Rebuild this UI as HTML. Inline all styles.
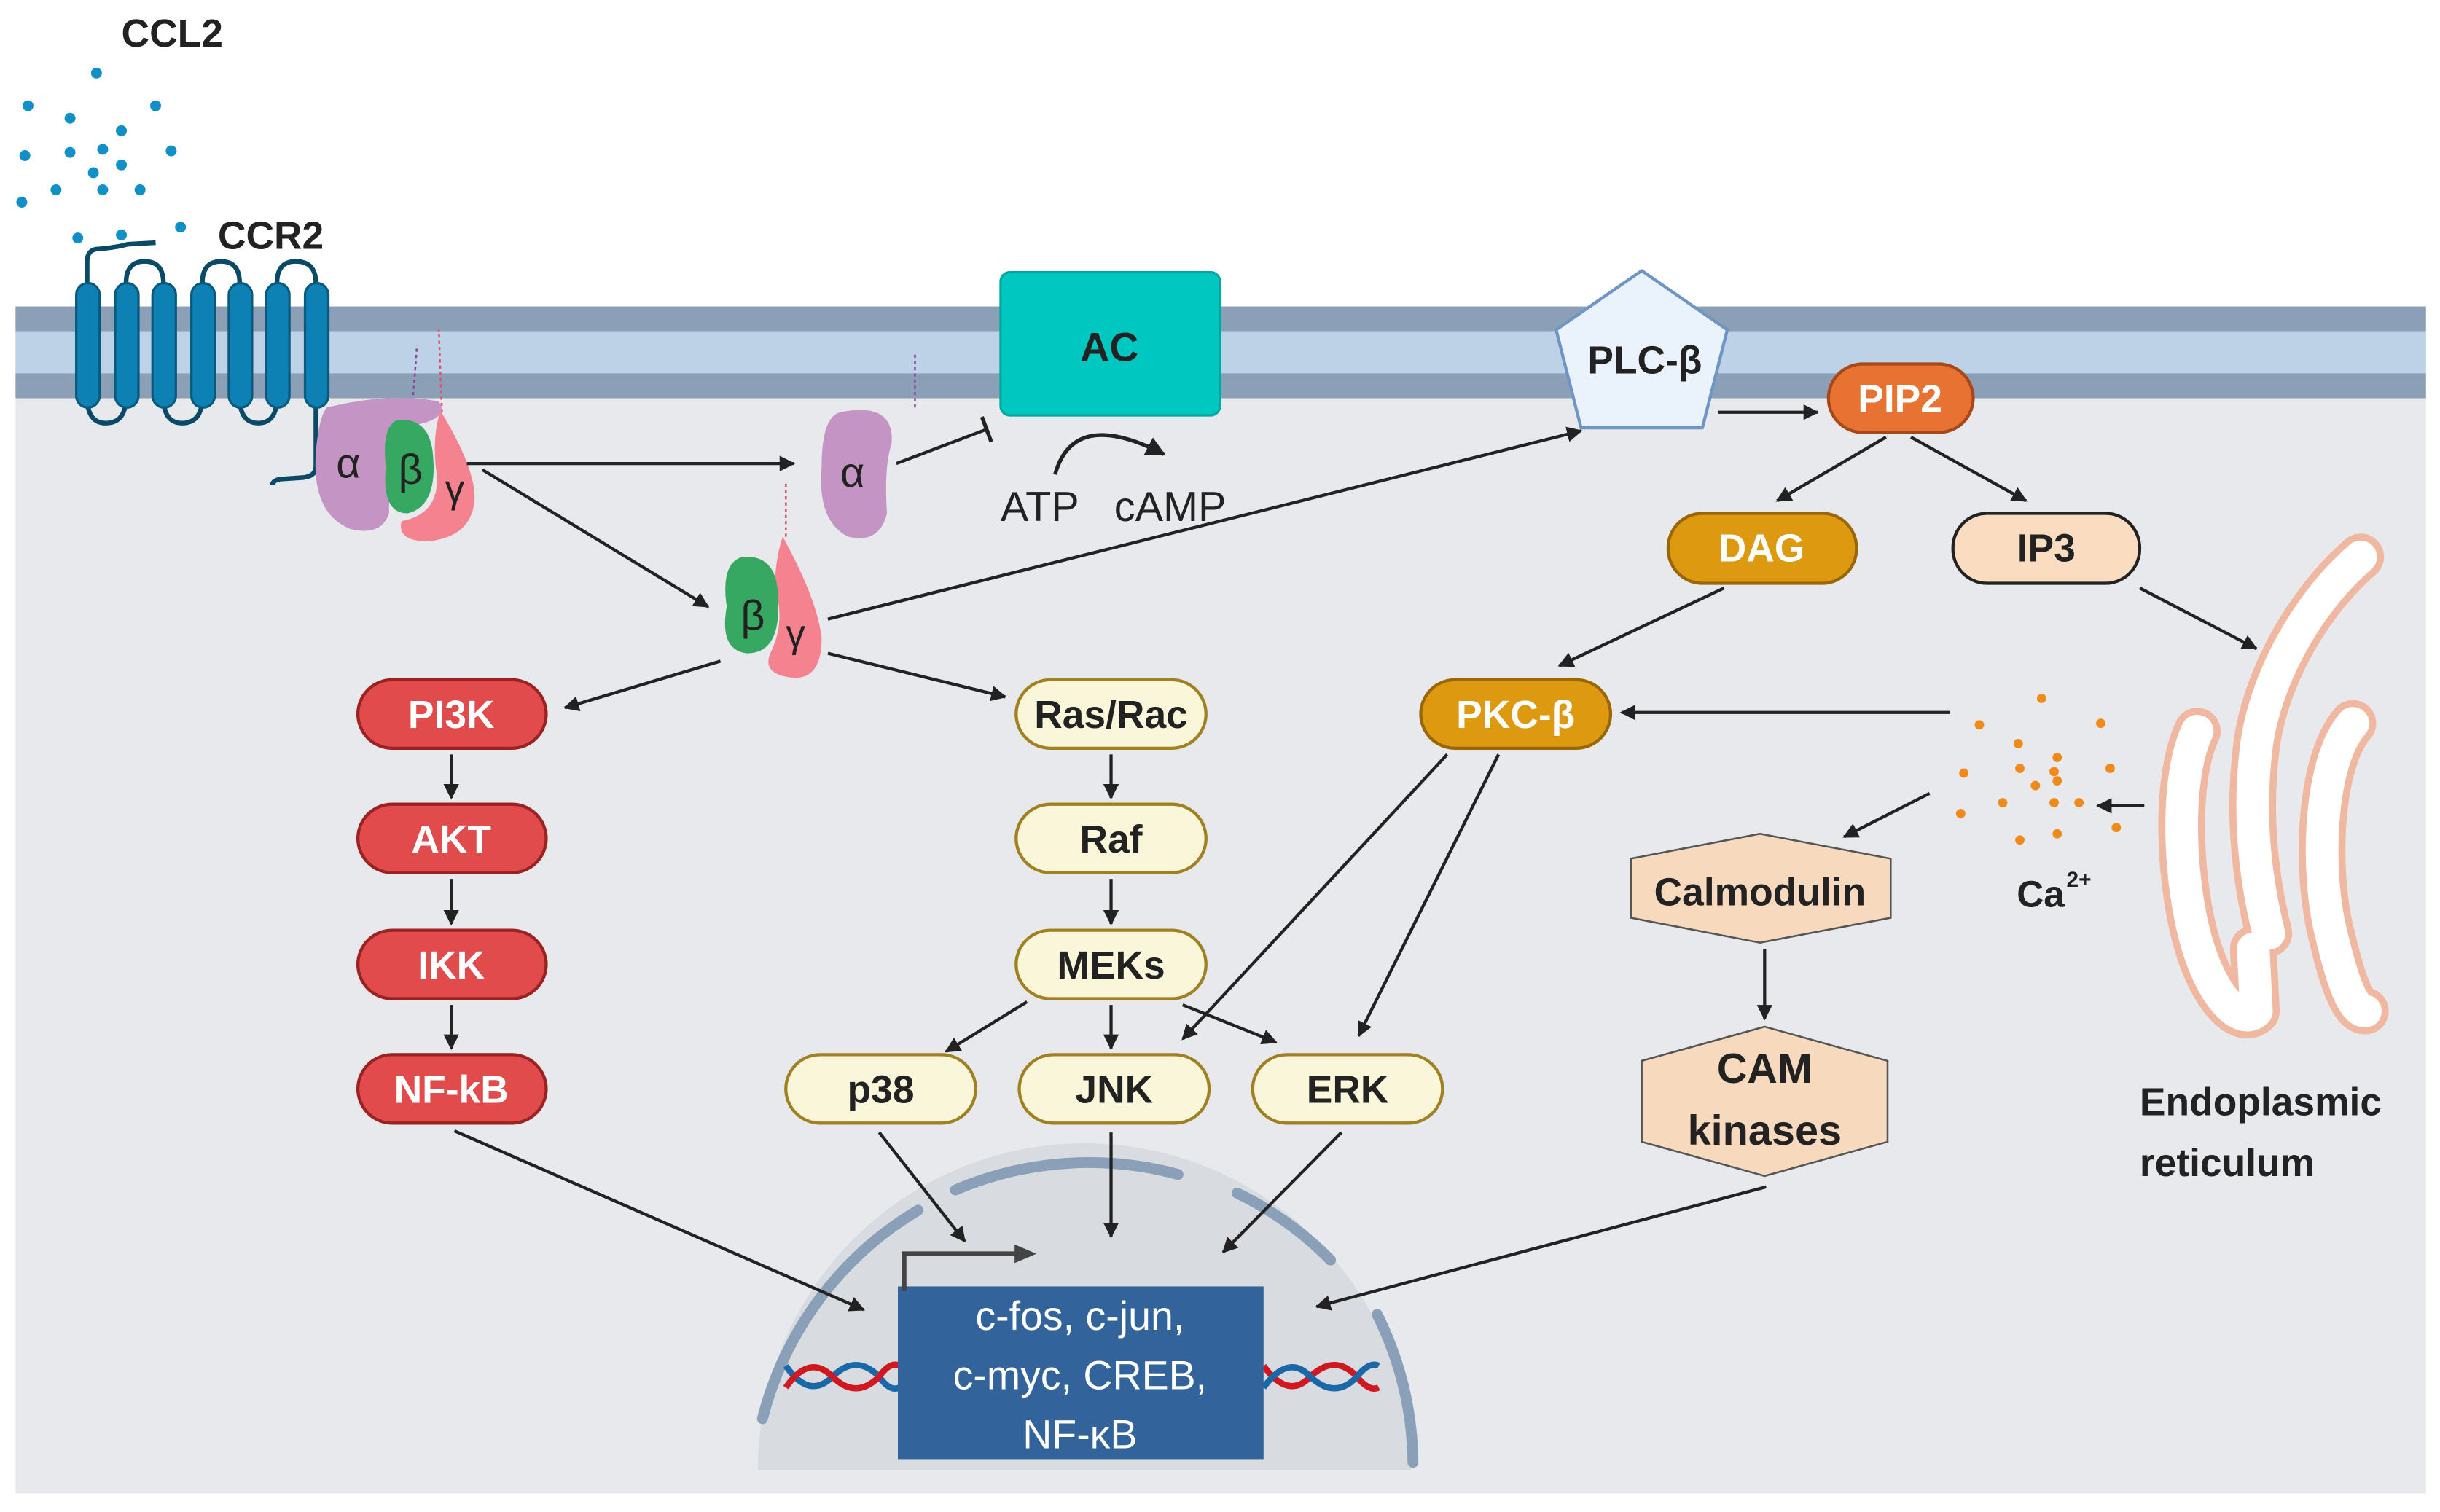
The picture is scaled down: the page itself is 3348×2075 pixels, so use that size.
<!DOCTYPE html>
<html><head><meta charset="utf-8"><style>
html,body{margin:0;padding:0;background:#fff;}
svg{display:block;}
text{font-family:"Liberation Sans",sans-serif;}
</style></head><body>
<svg width="3348" height="2075" viewBox="0 0 1568 972" preserveAspectRatio="none" xmlns="http://www.w3.org/2000/svg">
<defs>
<marker id="ah" viewBox="0 0 10 10" refX="9" refY="5" markerWidth="5" markerHeight="5" orient="auto"><path d="M0,0 L10,5 L0,10 z" fill="#222"/></marker>
</defs>
<rect width="1568" height="972" fill="#fff"/>
<rect x="10" y="197" width="1549" height="763" fill="#e7e9ec"/>
<rect x="10" y="197" width="1549" height="16" fill="#8ba0b6"/>
<rect x="10" y="213" width="1549" height="27" fill="#bdd1e7"/>
<rect x="10" y="240" width="1549" height="16" fill="#8ba0b6"/>

<text x="78" y="30" font-size="25" font-weight="bold" fill="#222">CCL2</text>
<g fill="#1190c8">
<circle cx="62" cy="47" r="3.5"/><circle cx="18" cy="68" r="3.5"/><circle cx="100" cy="68" r="3.5"/><circle cx="45" cy="76" r="3.5"/><circle cx="78" cy="84" r="3.5"/>
<circle cx="16" cy="100" r="3.5"/><circle cx="45" cy="98" r="3.5"/><circle cx="66" cy="96" r="3.5"/><circle cx="110" cy="97" r="3.5"/><circle cx="78" cy="106" r="3.5"/><circle cx="60" cy="111" r="3.5"/>
<circle cx="36" cy="122" r="3.5"/><circle cx="66" cy="122" r="3.5"/><circle cx="90" cy="122" r="3.5"/><circle cx="14" cy="130" r="3.5"/>
<circle cx="50" cy="153" r="3.5"/><circle cx="78" cy="151" r="3.5"/><circle cx="116" cy="146" r="3.5"/>
</g>
<text x="140" y="160" font-size="25" font-weight="bold" fill="#222">CCR2</text>
<!-- receptor loops -->
<g fill="none" stroke="#0a4a66" stroke-width="3">
<path d="M56,190 L56,168 Q56,160 64,160 Q75,159 82,157 L100,156"/>
<path d="M81,190 L81,182 Q81,168 93,168 Q105,168 105,182 L105,190"/>
<path d="M130,190 L130,182 Q130,168 142,168 Q154,168 154,182 L154,190"/>
<path d="M178,190 L178,182 Q178,168 190,168 Q203,168 203,182 L203,190"/>
<path d="M56,255 Q56,272 68,272 Q81,272 81,255"/>
<path d="M105,255 Q105,272 117,272 Q130,272 130,255"/>
<path d="M154,255 Q154,272 166,272 Q178,272 178,255"/>
<path d="M203,255 L203,300 Q203,306 195,307 L180,308 Q175,309 175,312"/>
</g>
<g fill="#0d80b4" stroke="#0a5a7e" stroke-width="1.5">
<rect x="49" y="182" width="15" height="80" rx="7.5"/>
<rect x="74" y="182" width="15" height="80" rx="7.5"/>
<rect x="98" y="182" width="15" height="80" rx="7.5"/>
<rect x="123" y="182" width="15" height="80" rx="7.5"/>
<rect x="147" y="182" width="15" height="80" rx="7.5"/>
<rect x="171" y="182" width="15" height="80" rx="7.5"/>
<rect x="196" y="182" width="15" height="80" rx="7.5"/>
</g>
<!-- G protein trimer -->
<path d="M265,262 L268,222" stroke="#8a4a9a" stroke-width="1.2" fill="none" stroke-dasharray="2,2"/>
<path d="M284,265 L282,212" stroke="#e05070" stroke-width="1.2" fill="none" stroke-dasharray="2,2"/>
<path d="M210,262 Q250,252 282,258 Q290,270 262,274 Q250,290 250,330 Q245,345 225,340 Q200,330 203,290 Q205,268 210,262z" fill="#c495c4"/>
<path d="M283,264 Q305,300 305,320 Q304,345 275,348 Q255,348 258,335 Q285,330 280,300 Q278,280 283,264z" fill="#f4838f"/>
<path d="M255,270 Q275,268 278,290 Q282,325 262,330 Q245,330 248,300 Q245,275 255,270z" fill="#37a862"/>
<text x="216" y="307" font-size="27" fill="#222">α</text>
<text x="256" y="311" font-size="27" fill="#222">β</text>
<text x="286" y="323" font-size="25" fill="#222">γ</text>
<path d="M588,262 L588,228" stroke="#8a4a9a" stroke-width="1.2" stroke-dasharray="2,2"/>
<path d="M540,265 Q575,258 573,285 Q568,300 570,330 Q565,350 545,345 Q525,335 528,300 Q528,268 540,265z" fill="#c495c4"/>
<text x="540" y="313" font-size="27" fill="#222">α</text>
<path d="M505,345 L505,310" stroke="#e05070" stroke-width="1.2" stroke-dasharray="2,2"/>
<path d="M503,345 Q525,385 528,410 Q528,440 505,435 Q490,432 495,420 Q505,400 498,378 Q498,360 503,345z" fill="#f4838f"/>
<path d="M477,358 Q500,356 500,385 Q502,420 480,420 Q462,418 467,390 Q463,362 477,358z" fill="#37a862"/>
<text x="476" y="405" font-size="27" fill="#222">β</text>
<text x="505" y="416" font-size="25" fill="#222">γ</text>
<!-- AC -->
<rect x="643" y="175" width="141" height="92" rx="6" fill="#00c7bf" stroke="#00a8a0" stroke-width="1.5"/>
<text x="713" y="232" font-size="26" font-weight="bold" fill="#222" text-anchor="middle">AC</text>
<path d="M678,305 Q690,262 748,292" fill="none" stroke="#222" stroke-width="2.5" marker-end="url(#ah)"/>
<text x="643" y="335" font-size="27" fill="#222">ATP</text>
<text x="716" y="335" font-size="27" fill="#222">cAMP</text>
<line x1="576" y1="298" x2="634" y2="276" stroke="#222" stroke-width="2"/>
<line x1="631" y1="268" x2="637" y2="284" stroke="#222" stroke-width="2.5"/>
<!-- PLC -->
<path d="M1055,174 L1110,212 L1094,275 L1016,275 L1000,212z" fill="#eaf2fc" stroke="#6f95c5" stroke-width="2" stroke-linejoin="round"/>
<text x="1057" y="240" font-size="25" font-weight="bold" fill="#222" text-anchor="middle">PLC-β</text>
<g font-size="25" font-weight="bold" text-anchor="middle">
<rect x="1175" y="234" width="93" height="44" rx="22" fill="#e87231" stroke="#a8481a" stroke-width="2"/>
<text x="1221" y="265" fill="#fff">PIP2</text>
<rect x="1072" y="330" width="121" height="45" rx="22" fill="#dd9a10" stroke="#9a6608" stroke-width="2"/>
<text x="1132" y="361" fill="#fff">DAG</text>
<rect x="1255" y="330" width="120" height="45" rx="22" fill="#fadcc0" stroke="#222" stroke-width="2"/>
<text x="1315" y="361" fill="#222">IP3</text>
<rect x="913" y="437" width="122" height="44" rx="22" fill="#dd9a10" stroke="#9a6608" stroke-width="2"/>
<text x="974" y="468" fill="#fff">PKC-β</text>
<g fill="#e24b4b" stroke="#9a2222" stroke-width="2">
<rect x="230" y="437" width="121" height="44" rx="22"/>
<rect x="230" y="517" width="121" height="44" rx="22"/>
<rect x="230" y="598" width="121" height="44" rx="22"/>
<rect x="230" y="678" width="121" height="44" rx="22"/>
</g>
<g fill="#fff">
<text x="290" y="468">PI3K</text><text x="290" y="548">AKT</text><text x="290" y="629">IKK</text><text x="290" y="709">NF-kB</text>
</g>
<g fill="#faf6d9" stroke="#a08020" stroke-width="2">
<rect x="653" y="437" width="122" height="44" rx="22"/>
<rect x="653" y="517" width="122" height="44" rx="22"/>
<rect x="653" y="598" width="122" height="44" rx="22"/>
<rect x="505" y="678" width="122" height="44" rx="22"/>
<rect x="655" y="678" width="122" height="44" rx="22"/>
<rect x="805" y="678" width="122" height="44" rx="22"/>
</g>
<g fill="#222">
<text x="714" y="468">Ras/Rac</text><text x="714" y="548">Raf</text><text x="714" y="629">MEKs</text>
<text x="566" y="709">p38</text><text x="716" y="709">JNK</text><text x="866" y="709">ERK</text>
</g>
</g>
<path d="M1048,552 L1131,536 L1215,552 L1215,590 L1131,606 L1048,590z" fill="#f7d9bd" stroke="#555" stroke-width="1.2"/>
<text x="1131" y="582" font-size="25" font-weight="bold" fill="#222" text-anchor="middle">Calmodulin</text>
<path d="M1055,682 L1134,660 L1213,682 L1213,734 L1134,756 L1055,734z" fill="#f7d9bd" stroke="#555" stroke-width="1.2"/>
<text x="1134" y="696" font-size="27" font-weight="bold" fill="#222" text-anchor="middle">CAM</text>
<text x="1134" y="736" font-size="27" font-weight="bold" fill="#222" text-anchor="middle">kinases</text>
<g fill="#f08a1a">
<circle cx="1312" cy="449" r="3"/><circle cx="1272" cy="466" r="3"/><circle cx="1350" cy="465" r="3"/><circle cx="1297" cy="478" r="3"/><circle cx="1322" cy="487" r="3"/>
<circle cx="1262" cy="497" r="3"/><circle cx="1298" cy="494" r="3"/><circle cx="1320" cy="496" r="3"/><circle cx="1356" cy="494" r="3"/><circle cx="1308" cy="505" r="3"/><circle cx="1322" cy="502" r="3"/>
<circle cx="1260" cy="523" r="3"/><circle cx="1287" cy="516" r="3"/><circle cx="1320" cy="516" r="3"/><circle cx="1336" cy="516" r="3"/>
<circle cx="1298" cy="540" r="3"/><circle cx="1322" cy="536" r="3"/><circle cx="1360" cy="532" r="3"/>
</g>
<text x="1296" y="583" font-size="24" font-weight="bold" fill="#222">Ca</text><text x="1328" y="570" font-size="14" font-weight="bold" fill="#222">2+</text>
<!-- ER as tubes -->
<g fill="none" stroke-linecap="round" stroke-linejoin="round">
<g stroke="#f0b8a0" stroke-width="30">
<path d="M1517,358 C1480,390 1455,440 1450,480 C1445,520 1448,560 1458,600"/>
<path d="M1412,470 C1398,500 1400,560 1410,600 C1420,640 1440,660 1450,650 L1448,610"/>
<path d="M1512,465 C1490,490 1488,560 1498,600 C1505,630 1512,650 1520,650"/>
</g>
<g stroke="#fff" stroke-width="21">
<path d="M1517,358 C1480,390 1455,440 1450,480 C1445,520 1448,560 1458,600"/>
<path d="M1412,470 C1398,500 1400,560 1410,600 C1420,640 1440,660 1450,650 L1448,610"/>
<path d="M1512,465 C1490,490 1488,560 1498,600 C1505,630 1512,650 1520,650"/>
</g>
</g>
<text x="1375" y="717" font-size="25" font-weight="bold" fill="#222">Endoplasmic</text>
<text x="1375" y="756" font-size="25" font-weight="bold" fill="#222">reticulum</text>
<!-- nucleus -->
<path d="M487,945 A210,210 0 0 1 907,945 z" fill="#d8dbdf"/>
<path d="M490,912 A218,218 0 0 1 590,778" fill="none" stroke="#8aa0b8" stroke-width="7" stroke-linecap="round"/>
<path d="M614,765 A218,218 0 0 1 757,755" fill="none" stroke="#8aa0b8" stroke-width="7" stroke-linecap="round"/>
<path d="M795,767 A218,218 0 0 1 855,810" fill="none" stroke="#8aa0b8" stroke-width="7" stroke-linecap="round"/>
<path d="M885,845 A218,218 0 0 1 908,940" fill="none" stroke="#8aa0b8" stroke-width="7" stroke-linecap="round"/>
<g fill="none" stroke-width="4">
<path d="M505,878 Q520,900 535,885 Q550,870 565,885 Q572,895 578,892" stroke="#1a68a8"/>
<path d="M505,892 Q520,870 535,885 Q550,900 565,885 Q572,875 578,878" stroke="#d01820"/>
<path d="M812,878 Q828,900 842,885 Q858,870 872,885 Q880,895 886,892" stroke="#d01820"/>
<path d="M812,892 Q828,870 842,885 Q858,900 872,885 Q880,875 886,878" stroke="#1a68a8"/>
</g>
<rect x="577" y="827" width="235" height="111" fill="#32639a"/>
<text x="694" y="855" font-size="26" fill="#fff" text-anchor="middle">c-fos, c-jun,</text>
<text x="694" y="893" font-size="26" fill="#fff" text-anchor="middle">c-myc, CREB,</text>
<text x="694" y="931" font-size="26" fill="#fff" text-anchor="middle">NF-κB</text>
<path d="M581,830 L581,806 L655,806" fill="none" stroke="#444" stroke-width="3"/>
<path d="M652,800 L666,806 L652,812z" fill="#444"/>
<g stroke="#222" stroke-width="2" fill="none" marker-end="url(#ah)">
<line x1="300" y1="298" x2="510" y2="298"/>
<line x1="310" y1="302" x2="455" y2="390"/>
<line x1="532" y1="398" x2="1016" y2="277"/>
<line x1="1104" y1="265" x2="1168" y2="265"/>
<line x1="1212" y1="281" x2="1142" y2="322"/>
<line x1="1228" y1="281" x2="1302" y2="322"/>
<line x1="1108" y1="378" x2="1002" y2="428"/>
<line x1="1375" y1="378" x2="1450" y2="417"/>
<line x1="1253" y1="458" x2="1042" y2="458"/>
<line x1="1378" y1="518" x2="1348" y2="518"/>
<line x1="1240" y1="510" x2="1185" y2="538"/>
<line x1="1134" y1="610" x2="1134" y2="655"/>
<line x1="463" y1="425" x2="363" y2="455"/>
<line x1="532" y1="420" x2="646" y2="448"/>
<line x1="290" y1="485" x2="290" y2="513"/>
<line x1="290" y1="565" x2="290" y2="594"/>
<line x1="290" y1="646" x2="290" y2="674"/>
<line x1="714" y1="485" x2="714" y2="513"/>
<line x1="714" y1="565" x2="714" y2="594"/>
<line x1="660" y1="644" x2="608" y2="676"/>
<line x1="714" y1="646" x2="714" y2="674"/>
<line x1="760" y1="646" x2="820" y2="670"/>
<line x1="930" y1="485" x2="760" y2="668"/>
<line x1="963" y1="485" x2="873" y2="666"/>
<line x1="292" y1="727" x2="555" y2="842"/>
<line x1="565" y1="728" x2="620" y2="798"/>
<line x1="714" y1="728" x2="714" y2="795"/>
<line x1="862" y1="728" x2="786" y2="805"/>
<line x1="1135" y1="763" x2="846" y2="840"/>
</g>
</svg>
</body></html>
